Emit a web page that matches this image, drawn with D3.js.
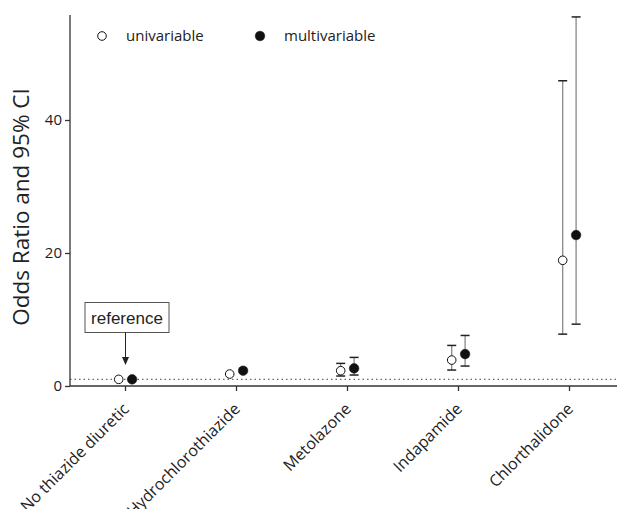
<!DOCTYPE html>
<html lang="en">
<head>
<meta charset="utf-8">
<title>Odds ratio by diuretic</title>
<script src="https://cdn.jsdelivr.net/npm/d3@7"></script>
<style>
  body { margin: 0; background: #fff; }
  svg { display: block; font-family: "Open Sans", sans-serif; }
</style>
</head>
<body>
<script>
// data
var categories = ["No thiazide diuretic", "Hydrochlorothiazide", "Metolazone", "Indapamide", "Chlorthalidone"];
var uniOR  = [1.0, 1.8, 2.3, 3.9, 18.9];
var uniLo  = [1.0, 1.5, 1.5, 2.4, 7.8];
var uniHi  = [1.0, 2.1, 3.4, 6.1, 45.9];
var multiOR = [1.0, 2.3, 2.65, 4.8, 22.7];
var multiLo = [1.0, 2.0, 1.65, 3.0, 9.3];
var multiHi = [1.0, 2.6, 4.3, 7.6, 55.5];
var yTicks = [0, 20, 40];

var w = 617, h = 509;
var plotLeft = 70, plotBottom = 386, plotTop = 13.6;

var svg = d3.select("body").append("svg")
    .attr("width", w)
    .attr("height", h);

var x = d3.scaleBand()
    .domain(categories)
    .range([plotLeft, plotLeft + 5 * 111]);

var y = d3.scaleLinear()
    .domain([0, 56])
    .range([plotBottom, plotTop]);

var axisColor = "#333";

// dotted reference line at OR = 1
svg.append("line")
    .attr("x1", plotLeft).attr("x2", w)
    .attr("y1", y(1)).attr("y2", y(1))
    .attr("stroke", "#666")
    .attr("stroke-width", 1.2)
    .attr("stroke-dasharray", "1.5,3");

// y axis
var yAxis = svg.append("g")
    .attr("transform", "translate(" + plotLeft + ",0)")
    .call(d3.axisLeft(y).tickValues(yTicks).tickSize(5).tickPadding(3).tickSizeOuter(0));
yAxis.select(".domain").attr("stroke", axisColor).attr("stroke-width", 1.3)
    .attr("d", "M0," + (plotTop + 1.5) + "V" + plotBottom);
yAxis.selectAll(".tick line").attr("stroke", axisColor).attr("stroke-width", 1.3);
yAxis.selectAll(".tick text")
    .attr("font-family", "Open Sans, sans-serif")
    .attr("font-size", "15px")
    .attr("fill", "#222");

// x axis
var xAxis = svg.append("g")
    .attr("transform", "translate(0," + plotBottom + ")")
    .call(d3.axisBottom(x).tickSize(5).tickSizeOuter(0).tickFormat(""));
xAxis.select(".domain").attr("stroke", axisColor).attr("stroke-width", 1.3)
    .attr("d", "M" + plotLeft + ",0H" + w);
xAxis.selectAll(".tick line").attr("stroke", axisColor).attr("stroke-width", 1.3);

// rotated category labels
svg.selectAll("text.cat")
    .data(categories)
    .enter()
    .append("text")
    .attr("class", "cat")
    .attr("transform", function(d) {
        return "translate(" + (x(d) + x.bandwidth() / 2 + 4.5) + "," + (plotBottom + 24) + ") rotate(-45)";
    })
    .attr("text-anchor", "end")
    .attr("font-size", "16px")
    .attr("fill", "#222")
    .text(function(d) { return d; });

// y axis title
svg.append("text")
    .attr("transform", "translate(29," + 207 + ") rotate(-90)")
    .attr("text-anchor", "middle")
    .attr("font-size", "22.5px")
    .attr("fill", "#222")
    .text("Odds Ratio and 95% CI");

// error bars + points for one series
function drawSeries(or, lo, hi, dx, filled) {
    var g = svg.append("g");
    var capW = 4.5;
    categories.forEach(function(c, i) {
        var cx = x(c) + x.bandwidth() / 2 + dx;
        if (hi[i] > lo[i] && y(lo[i]) - y(hi[i]) > 8) {
            g.append("line")
                .attr("x1", cx).attr("x2", cx)
                .attr("y1", y(lo[i])).attr("y2", y(hi[i]))
                .attr("stroke", "#888").attr("stroke-width", 1.3);
            [lo[i], hi[i]].forEach(function(v) {
                g.append("line")
                    .attr("x1", cx - capW).attr("x2", cx + capW)
                    .attr("y1", y(v)).attr("y2", y(v))
                    .attr("stroke", "#222").attr("stroke-width", 1.5);
            });
        }
        g.append("circle")
            .attr("cx", cx).attr("cy", y(or[i]))
            .attr("r", filled ? 4.8 : 4.3)
            .attr("fill", filled ? "#111" : "#fff")
            .attr("stroke", "#111")
            .attr("stroke-width", filled ? 0.5 : 1);
    });
}
drawSeries(uniOR, uniLo, uniHi, -6.8, false);
drawSeries(multiOR, multiLo, multiHi, 6.6, true);

// reference annotation
var refX = x(categories[0]) + x.bandwidth() / 2;
svg.append("rect")
    .attr("x", 85).attr("y", 302.5)
    .attr("width", 84).attr("height", 30)
    .attr("fill", "#fff")
    .attr("stroke", "#555").attr("stroke-width", 1);
svg.append("text")
    .attr("x", 127).attr("y", 323.5)
    .attr("text-anchor", "middle")
    .attr("font-family", "Liberation Sans, Arial, sans-serif")
    .attr("font-size", "17px")
    .attr("fill", "#222")
    .text("reference");
svg.append("line")
    .attr("x1", refX).attr("x2", refX)
    .attr("y1", 332.5).attr("y2", 359)
    .attr("stroke", "#222").attr("stroke-width", 1);
svg.append("path")
    .attr("d", "M" + (refX - 3.5) + ",357L" + (refX + 3.5) + ",357L" + refX + ",365Z")
    .attr("fill", "#222");

// legend
var legend = [
    { label: "univariable", filled: false, x: 102 },
    { label: "multivariable", filled: true, x: 260 }
];
legend.forEach(function(d) {
    svg.append("circle")
        .attr("cx", d.x).attr("cy", 36)
        .attr("r", d.filled ? 4.8 : 4.3)
        .attr("fill", d.filled ? "#111" : "#fff")
        .attr("stroke", "#111")
        .attr("stroke-width", d.filled ? 0.5 : 1);
    svg.append("text")
        .attr("x", d.x + 24).attr("y", 41)
        .attr("font-size", "15px")
        .attr("fill", "#222")
        .text(d.label);
});
</script>
</body>
</html>
